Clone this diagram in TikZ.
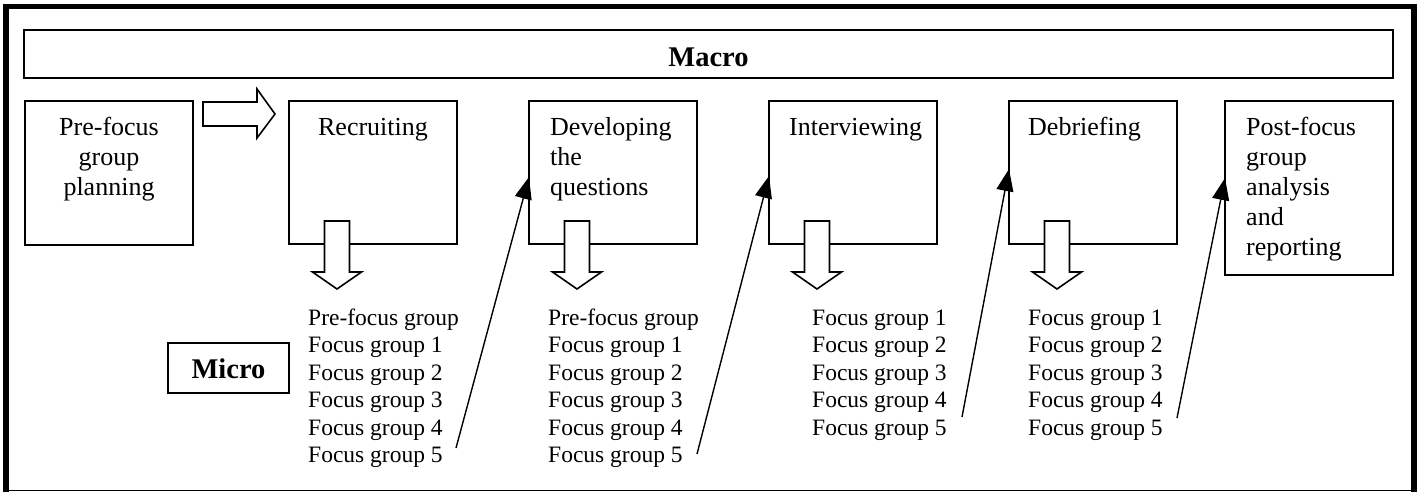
\documentclass[tikz,border=0pt]{standalone}
\usepackage{fontspec}
\setmainfont{Liberation Serif}
\usetikzlibrary{arrows.meta}
\begin{document}
\begin{tikzpicture}[x=1pt,y=-1pt,
  frame/.style={line width=5.5pt},
  box/.style={draw, line width=1.6pt, inner sep=0pt, outer sep=0pt, anchor=north west},
  boxtext/.style={inner sep=0pt, anchor=north west, align=left, font=\fontsize{26}{30}\selectfont},
  listtext/.style={inner sep=0pt, anchor=north west, align=left, font=\fontsize{23.5}{27.5}\selectfont},
  titletext/.style={inner sep=0pt, anchor=base, font=\bfseries\fontsize{28.5}{32}\selectfont},
  blockarrow/.style={draw, fill=white, line width=1.6pt, line join=miter},
  link/.style={line width=1.4pt, -{Triangle[length=22pt,width=17pt]}},
]
\useasboundingbox (0,0) rectangle (1421,492);
% outer frame
\draw[frame] (6,492) -- (6,6.5) -- (1414,6.5) -- (1414,492);
\draw[line width=1.5pt] (6,490.5) -- (1414,490.5);

% macro bar
\node[box, minimum width=1369pt, minimum height=48pt] (macro) at (24,30) {};
\node[titletext] (macrot) at (708.5,67) {Macro};

% stage boxes
\node[box, minimum width=168pt, minimum height=144pt] (pre)  at (25,101) {};
\node[box, minimum width=168pt, minimum height=143pt] (rec)  at (289,101) {};
\node[box, minimum width=168pt, minimum height=143pt] (dev)  at (529,101) {};
\node[box, minimum width=168pt, minimum height=143pt] (int)  at (769,101) {};
\node[box, minimum width=168pt, minimum height=143pt] (deb)  at (1009,101) {};
\node[box, minimum width=168pt, minimum height=174pt] (post) at (1225,101) {};

\node[boxtext, anchor=north, align=center] (pret) at (109,114) {\strut Pre-focus\\group\\planning};
\node[boxtext, anchor=north, align=center] (rect) at (373,114) {\strut Recruiting};
\node[boxtext] (devt) at (550,114) {\strut Developing\\the\\questions};
\node[boxtext] (intt) at (789,114) {\strut Interviewing};
\node[boxtext] (debt) at (1028,114) {\strut Debriefing};
\node[boxtext] (postt) at (1246,114) {\strut Post-focus\\group\\analysis\\and\\reporting};

% hollow right arrow
\draw[blockarrow] (203,102) -- (257,102) -- (257,89) -- (275,114) -- (257,138) -- (257,126) -- (203,126) -- cycle;

% hollow down arrows
\foreach \c in {337,577,817,1057}{
  \draw[blockarrow] (\c-12.5,221) -- (\c+12.5,221) -- (\c+12.5,272) -- (\c+24.5,272)
    -- (\c,289) -- (\c-24.5,272) -- (\c-12.5,272) -- cycle;
}

% micro label
\node[box, minimum width=121pt, minimum height=50pt] (micro) at (168,343) {};
\node[titletext] (microt) at (228.5,378) {Micro};

% lists
\node[listtext] (recl) at (308,305.75) {\strut Pre-focus group\\Focus group 1\\Focus group 2\\Focus group 3\\Focus group 4\\Focus group 5};
\node[listtext] (devl) at (548,305.75) {\strut Pre-focus group\\Focus group 1\\Focus group 2\\Focus group 3\\Focus group 4\\Focus group 5};
\node[listtext] (intl) at (812,305.75) {\strut Focus group 1\\Focus group 2\\Focus group 3\\Focus group 4\\Focus group 5};
\node[listtext] (debl) at (1028,305.75) {\strut Focus group 1\\Focus group 2\\Focus group 3\\Focus group 4\\Focus group 5};

% feedback arrows
\coordinate (s1) at (456,448);  \coordinate (e1) at (529,177);
\coordinate (s2) at (697,454);  \coordinate (e2) at (769,176);
\coordinate (s3) at (962,417);  \coordinate (e3) at (1009,169);
\coordinate (s4) at (1177,418); \coordinate (e4) at (1225,178);
\draw[link] (s1) -- (e1);
\draw[link] (s2) -- (e2);
\draw[link] (s3) -- (e3);
\draw[link] (s4) -- (e4);
\end{tikzpicture}
\end{document}
